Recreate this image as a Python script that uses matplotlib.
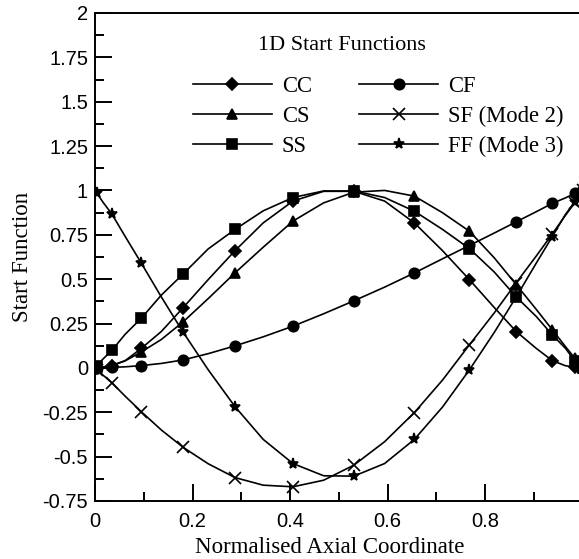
import numpy as np
import matplotlib
matplotlib.use("Agg")
from matplotlib import pyplot as plt
from matplotlib.ticker import MultipleLocator, FormatStrFormatter

plt.rcParams['axes.unicode_minus'] = False

# axial positions of the solution points
x = [0.0, 0.004, 0.016, 0.035, 0.062, 0.095, 0.136, 0.181, 0.232, 0.287, 0.345, 0.406, 0.469,
     0.531, 0.594, 0.655, 0.713, 0.768, 0.819, 0.864, 0.905, 0.938, 0.965, 0.984, 0.996, 1.0]

cc = [0.0, 0.001, 0.005, 0.012, 0.041, 0.11, 0.205, 0.34, 0.497, 0.66, 0.817, 0.94, 0.995,
      0.995, 0.94, 0.817, 0.66, 0.497, 0.34, 0.205, 0.11, 0.041, 0.012, 0.005, 0.001, 0.0]
cs = [0.0, 0.001, 0.003, 0.015, 0.04, 0.09, 0.16, 0.26, 0.39, 0.535, 0.68, 0.827, 0.93,
      0.99, 1.0, 0.968, 0.874, 0.77, 0.62, 0.469, 0.33, 0.215, 0.12, 0.055, 0.014, 0.0]
ss = [0.0, 0.012, 0.049, 0.1, 0.19, 0.28, 0.41, 0.53, 0.67, 0.78, 0.885, 0.96, 0.997,
      0.997, 0.96, 0.883, 0.78, 0.672, 0.54, 0.40, 0.29, 0.186, 0.11, 0.04, 0.012, 0.0]
cf = [0.0, 0.0, 0.001, 0.003, 0.006, 0.013, 0.025, 0.045, 0.08, 0.124, 0.175, 0.235, 0.305,
      0.378, 0.455, 0.535, 0.615, 0.69, 0.76, 0.823, 0.88, 0.927, 0.958, 0.983, 0.997, 1.0]
sf = [0.0, -0.01, -0.04, -0.085, -0.16, -0.247, -0.35, -0.448, -0.54, -0.618, -0.661, -0.67, -0.633,
      -0.548, -0.416, -0.252, -0.068, 0.13, 0.31, 0.48, 0.63, 0.755, 0.86, 0.93, 0.975, 1.0]
ff = [1.0, 0.984, 0.935, 0.865, 0.74, 0.59, 0.40, 0.20, -0.01, -0.218, -0.403, -0.539, -0.608,
      -0.61, -0.539, -0.403, -0.22, -0.011, 0.20, 0.40, 0.59, 0.74, 0.865, 0.935, 0.984, 1.0]

series = [(cc, 'CC', 'D', 6), (cs, 'CS', '^', 6.5), (ss, 'SS', 's', 7.5),
          (cf, 'CF', 'o', 7.5), (sf, 'SF (Mode 2)', 'x', 8), (ff, 'FF (Mode 3)', '*', 8)]

fig = plt.figure(figsize=(5.79, 5.59), dpi=100)
ax = fig.add_axes([0.1641, 0.1038, 0.842, 0.873])

for vals, lab, mk, ms in series:
    ax.plot(x, vals, color='black', lw=1.2, marker=mk, ms=ms, mew=1.2,
            markevery=(1, 2), label=lab)

ax.set_xlim(0, 1)
ax.set_ylim(-0.75, 2)
ax.set_xticks([0, 0.2, 0.4, 0.6, 0.8])
ax.xaxis.set_minor_locator(MultipleLocator(0.1))
ax.yaxis.set_major_locator(MultipleLocator(0.25))
ax.yaxis.set_minor_locator(MultipleLocator(0.125))
ax.xaxis.set_major_formatter(FormatStrFormatter('%g'))
ax.yaxis.set_major_formatter(FormatStrFormatter('%g'))

ax.tick_params(which='both', direction='in', top=False, right=False, width=1.4)
ax.tick_params(which='major', length=12.5, labelsize=14.5)
ax.tick_params(axis='y', which='major', pad=5)
ax.tick_params(axis='x', which='major', pad=8)
ax.tick_params(which='minor', length=6.5)
for lbl in ax.get_xticklabels() + ax.get_yticklabels():
    lbl.set_family('Liberation Sans')
for sp in ax.spines.values():
    sp.set_linewidth(1.4)

ax.set_xlabel('Normalised Axial Coordinate', family='Liberation Serif', fontsize=16.5, labelpad=4)
ax.xaxis.label.set_x(0.482)
ax.set_ylabel('Start Function', family='Liberation Serif', fontsize=16.5, labelpad=7)

ax.text(0.507, 0.934, '1D Start Functions', transform=ax.transAxes,
        family='Liberation Serif', fontsize=16, ha='center', va='center')
ax.legend(loc='upper left', bbox_to_anchor=(0.2, 0.871), ncol=2, frameon=False,
          prop={'family': 'Liberation Serif', 'size': 16.3}, handlelength=3.5,
          handletextpad=0.44, columnspacing=2.1, labelspacing=0.4, borderpad=0,
          borderaxespad=0)

fig.savefig('out.png', dpi=100)
